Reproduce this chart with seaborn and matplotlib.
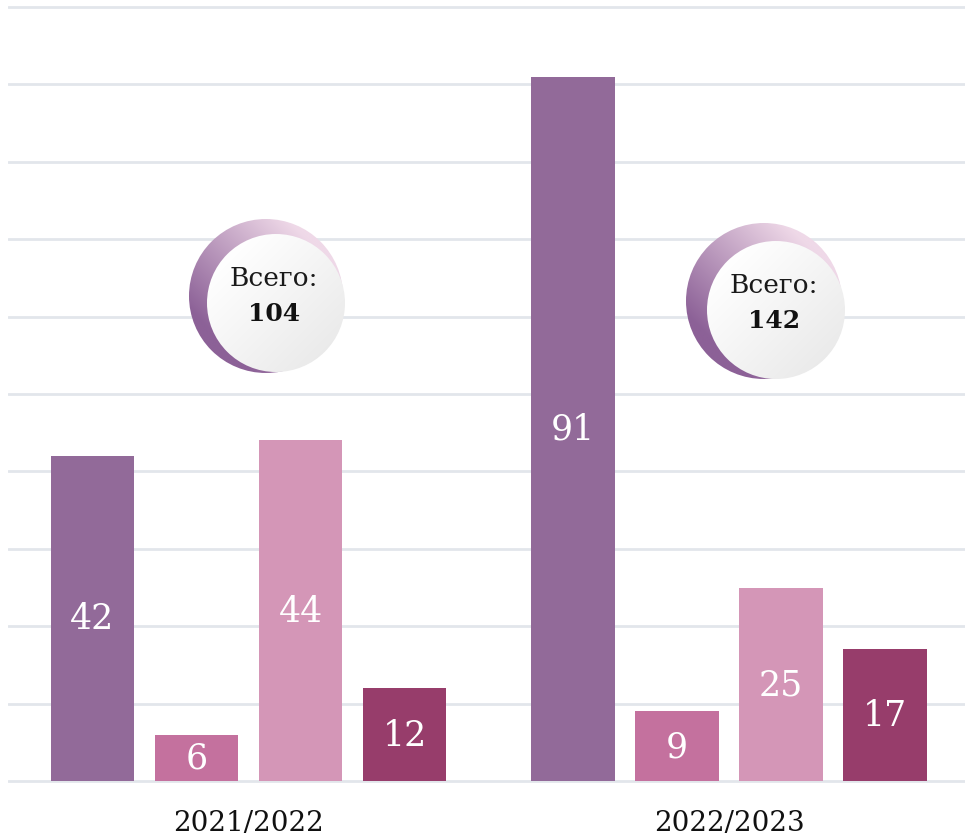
import numpy as np
import pandas as pd
import matplotlib
matplotlib.use("Agg")
import matplotlib.pyplot as plt
from matplotlib.patches import Circle
from matplotlib.colors import to_rgb
import seaborn as sns

# data
seasons = ["2021/2022", "2022/2023"]
groups = ["g1", "g2", "g3", "g4"]
values_2021 = [42, 6, 44, 12]
values_2022 = [91, 9, 25, 17]
totals = [104, 142]
total_label = "Всего:"

colors = ["#926a99", "#c4719e", "#d496b7", "#973d6b"]

df = pd.DataFrame({
    "season": [seasons[0]] * 4 + [seasons[1]] * 4,
    "group": groups * 2,
    "count": values_2021 + values_2022,
})

sns.set_theme(style="white")
plt.rcParams["font.family"] = ["DejaVu Serif", "DejaVu Sans"]

W, H = 965, 837
fig = plt.figure(figsize=(W / 100, H / 100), dpi=100)

# main axes: 0 at y=782 px, 100 at y=8 px (a bit of slack so the edge gridlines aren't clipped)
ymin, ymax = -0.6, 101
ppu = (782 - 8) / 100
bottom_px = 782 + (-ymin) * ppu
height_px = (ymax - ymin) * ppu
ax = fig.add_axes([8 / W, (H - bottom_px) / H, (W - 8) / W, height_px / H])

sns.barplot(data=df, x="season", y="count", hue="group", palette=colors,
            width=0.866, gap=0.2, saturation=1, legend=False, linewidth=0, ax=ax)

for cont in ax.containers:
    ax.bar_label(cont, label_type="center", color="white", fontsize=25)

ax.set_ylim(ymin, ymax)
ax.set_xlim(-0.5005, 1.491)
ax.set_yticks(range(0, 101, 10))
ax.set_yticklabels([])
ax.grid(axis="y", color="#e2e6eb", linewidth=2)
ax.set_axisbelow(True)
for s in ax.spines.values():
    s.set_visible(False)
ax.tick_params(axis="both", length=0)
ax.tick_params(axis="x", labelsize=20, pad=17, labelcolor="#111111")
ax.set_xlabel("")
ax.set_ylabel("")

# overlay for the "total" bubbles, in pixel coords
ov = fig.add_axes([0, 0, 1, 1])
ov.set_xlim(0, W)
ov.set_ylim(H, 0)
ov.axis("off")

light = np.array(to_rgb("#efd9e8"))
dark = np.array(to_rgb("#8c6197"))


def bubble(cx, cy, r, wcx, wcy, wr, total):
    n = 300
    xs = np.linspace(cx - r, cx + r, n)
    ys = np.linspace(cy - r, cy + r, n)
    X, Y = np.meshgrid(xs, ys)
    t = (-(X - cx) + (Y - cy)) / (2 * r * np.sqrt(2)) + 0.5
    t = np.clip(t * 1.15 - 0.05, 0, 1)
    img = light[None, None, :] * (1 - t[..., None]) + dark[None, None, :] * t[..., None]
    circ = Circle((cx, cy), r, facecolor="none", edgecolor="none")
    ov.add_patch(circ)
    im = ov.imshow(img, extent=(cx - r, cx + r, cy + r, cy - r), origin="upper", zorder=2)
    im.set_clip_path(circ)

    # inner white disc with a soft grey shading
    xs = np.linspace(wcx - wr, wcx + wr, n)
    ys = np.linspace(wcy - wr, wcy + wr, n)
    X, Y = np.meshgrid(xs, ys)
    s = ((X - wcx) + (Y - wcy)) / (2 * wr * np.sqrt(2)) + 0.5
    s = np.clip(s, 0, 1)
    g = 1.0 - 0.08 * s
    img2 = np.dstack([g, g, g])
    circ2 = Circle((wcx, wcy), wr, facecolor="none", edgecolor="none")
    ov.add_patch(circ2)
    im2 = ov.imshow(img2, extent=(wcx - wr, wcx + wr, wcy + wr, wcy - wr), origin="upper", zorder=3)
    im2.set_clip_path(circ2)

    ov.text(wcx - 2, wcy - 26, total_label, ha="center", va="center",
            fontsize=19, color="#1a1a1a", zorder=4)
    ov.text(wcx - 2, wcy + 10, str(total), ha="center", va="center",
            fontsize=18, fontweight="bold", color="#111111", zorder=4)


bubble(266, 297, 77, 276, 304, 69, totals[0])
bubble(764, 302, 78, 776, 311, 69, totals[1])

ov.set_xlim(0, W)
ov.set_ylim(H, 0)
ov.set_aspect("auto")

fig.savefig("out.png", dpi=100, facecolor="white")
